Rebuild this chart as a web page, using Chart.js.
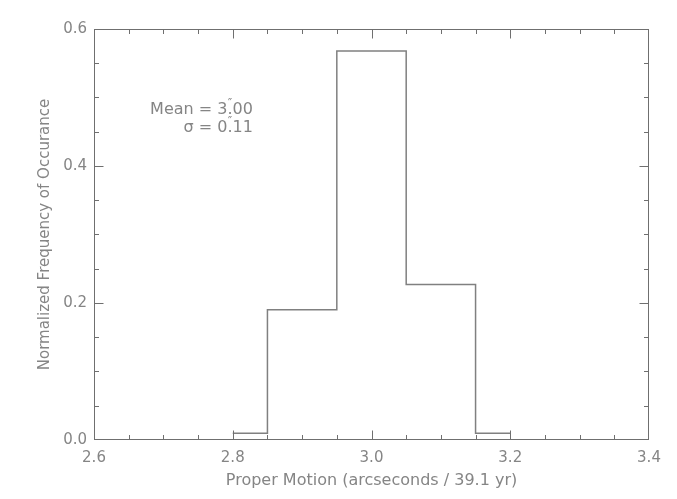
<!DOCTYPE html>
<html>
<head>
<meta charset="utf-8">
<script src="https://cdn.jsdelivr.net/npm/chart.js@4/dist/chart.umd.min.js"></script>
<style>
  body { margin: 0; background: #fff; }
  canvas { display: block; }
</style>
</head>
<body>
<canvas id="histChart" width="677" height="499"></canvas>
<script>
// histogram bins (IDL psym=10 style: steps half way between centres)
const binCenters = [2.8, 2.9, 3.0, 3.1, 3.2];
const frequency = [0.01, 0.19, 0.568, 0.227, 0.01];

const xTickLabels = [2.6, 2.8, 3.0, 3.2, 3.4];
const yTickLabels = [0.0, 0.2, 0.4, 0.6];

const meanText = "Mean = 3.00";
const sigmaText = "\u03C3 = 0.11";

const fontFamily = "'DejaVu Sans', sans-serif";
const textColor = "#858585";
const axisColor = "#6f6f6f";

// inward ticks on all four sides + frame + the stats label
const idlFrame = {
  id: "idlFrame",
  afterDraw(chart) {
    const c = chart.ctx;
    const a = chart.chartArea;
    const xs = chart.scales.x;
    const ys = chart.scales.y;
    const L = Math.round(a.left) + 0.5, R = Math.round(a.right) - 0.5;
    const T = Math.round(a.top) + 0.5, B = Math.round(a.bottom) - 0.5;
    c.save();
    c.strokeStyle = axisColor;
    c.lineWidth = 1;
    c.strokeRect(L, T, R - L, B - T);

    c.beginPath();
    for (let i = 0; i <= 16; i++) {
      const v = 2.6 + i * 0.05;
      const px = Math.min(R, Math.max(L, Math.round(xs.getPixelForValue(v)) + 0.5));
      const len = i % 4 === 0 ? 9 : 4.5;
      c.moveTo(px, B); c.lineTo(px, B - len);
      c.moveTo(px, T); c.lineTo(px, T + len);
    }
    for (let i = 0; i <= 12; i++) {
      const v = i * 0.05;
      const py = Math.min(B, Math.max(T, Math.round(ys.getPixelForValue(v)) + 0.5));
      const len = i % 4 === 0 ? 9 : 4.5;
      c.moveTo(L, py); c.lineTo(L + len, py);
      c.moveTo(R, py); c.lineTo(R - len, py);
    }
    c.stroke();

    // stats text, right aligned at x=2.829
    const rx = xs.getPixelForValue(2.829);
    const big = "16px " + fontFamily;
    c.fillStyle = textColor;
    c.textBaseline = "middle";
    const lines = [[meanText, 0.482, "Mean = 3"], [sigmaText, 0.456, "\u03C3 = 0"]];
    for (const [txt, yv, pre] of lines) {
      const py = ys.getPixelForValue(yv);
      c.font = big;
      c.textAlign = "left";
      const w = c.measureText(txt).width;
      const x0 = rx - w;
      c.fillText(txt, x0, py);
      const dotX = x0 + c.measureText(pre).width + c.measureText(".").width / 2;
      c.font = "12px " + fontFamily;
      c.textAlign = "center";
      c.fillText("\u2033", dotX, py - 6);
    }
    c.restore();
  }
};

const ctx = document.getElementById("histChart").getContext("2d");

const config = {
  type: "line",
  data: {
    datasets: [
      {
        data: binCenters.map((x, i) => ({ x: x, y: frequency[i] })),
        stepped: "middle",
        borderColor: "#808080",
        borderWidth: 1.5,
        pointRadius: 0,
        fill: false,
      },
    ],
  },
  options: {
    responsive: false,
    animation: false,
    devicePixelRatio: 1,
    layout: { padding: { top: 29, right: 28, left: 0, bottom: 0 } },
    plugins: { legend: { display: false }, tooltip: { enabled: false } },
    scales: {
      x: {
        type: "linear",
        min: 2.6,
        max: 3.4,
        afterFit: (s) => { s.height = 59; },
        afterBuildTicks: (s) => { s.ticks = xTickLabels.map((v) => ({ value: v })); },
        ticks: {
          callback: (v) => v.toFixed(1),
          color: textColor,
          font: { family: fontFamily, size: 15 },
          padding: 9,
          maxRotation: 0,
        },
        grid: { display: false, drawTicks: false },
        border: { display: false },
        title: {
          display: true,
          text: "Proper Motion (arcseconds / 39.1 yr)",
          color: textColor,
          font: { family: fontFamily, size: 16 },
          padding: { top: 0, bottom: 9 },
        },
      },
      y: {
        min: 0,
        max: 0.6,
        afterFit: (s) => { s.width = 94; },
        afterBuildTicks: (s) => { s.ticks = yTickLabels.map((v) => ({ value: v })); },
        ticks: {
          callback: (v) => v.toFixed(1),
          color: textColor,
          font: { family: fontFamily, size: 15 },
          padding: 7,
        },
        grid: { display: false, drawTicks: false },
        border: { display: false },
        title: {
          display: true,
          text: "Normalized Frequency of Occurance",
          color: textColor,
          font: { family: fontFamily, size: 15 },
          padding: { top: 36, bottom: 0 },
        },
      },
    },
  },
  plugins: [idlFrame],
};

const histChart = new Chart(ctx, config);
</script>
</body>
</html>
